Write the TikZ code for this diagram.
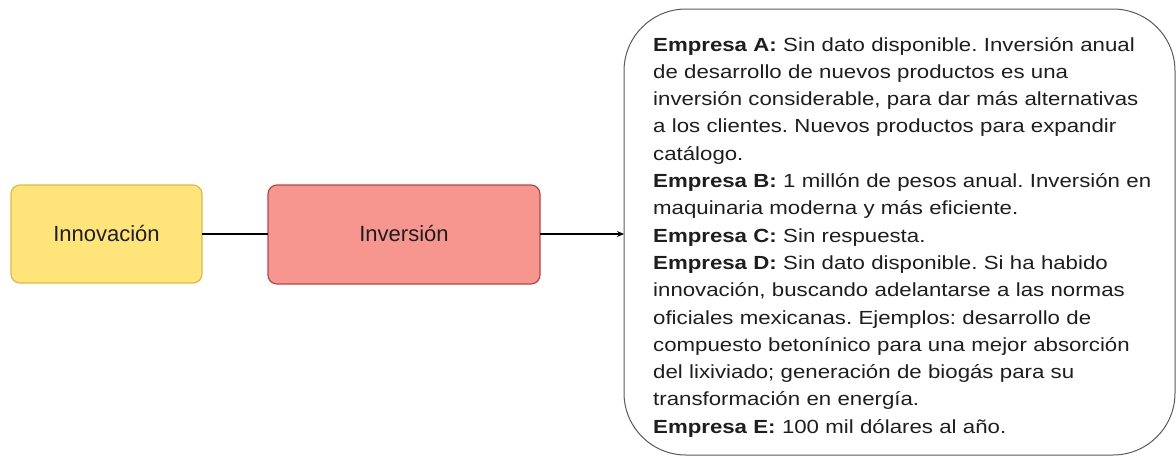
\documentclass[tikz,border=0pt]{standalone}
\usepackage{fontspec}
\setmainfont{Liberation Sans}
\newfontfamily\widefont[FakeStretch=1.17]{Liberation Sans}
\usetikzlibrary{arrows.meta}
\definecolor{yfill}{RGB}{255,228,122}
\definecolor{ydraw}{RGB}{222,186,70}
\definecolor{rfill}{RGB}{246,150,142}
\definecolor{rdraw}{RGB}{184,70,68}
\definecolor{bdraw}{RGB}{90,90,90}
\definecolor{txt}{RGB}{30,30,30}
\tikzset{
  smallbox/.style={rounded corners=9pt, line width=1.2pt},
  boxlabel/.style={text=txt, font=\fontsize{22}{26}\selectfont},
  conn/.style={line width=1.5pt, black},
  bigtext/.style={anchor=base west, inner sep=0pt, text width=520pt, align=left, text=txt,
    font=\widefont\fontsize{19}{27.3}\selectfont\frenchspacing}
}
\begin{document}
\begin{tikzpicture}[x=1pt,y=-1pt]
\useasboundingbox (0,0) rectangle (1176,456);
\draw[smallbox, fill=yfill, draw=ydraw] (11,185) rectangle (202,283);
\node[boxlabel] (inno) at (106.5,234) {Innovación};
\coordinate (innoR) at (202,234);
\draw[smallbox, fill=rfill, draw=rdraw] (268,185) rectangle (540,284);
\node[boxlabel] (inv) at (404,234) {Inversión};
\coordinate (invL) at (268,234);
\coordinate (invR) at (540,234);
\draw[rounded corners=62pt, line width=1pt, draw=bdraw, fill=white] (624,9) rectangle (1175,455);
\coordinate (boxL) at (624,234);
\node[bigtext] (txt) at (653,51) {\textbf{Empresa A:} Sin dato disponible. Inversión anual\\
de desarrollo de nuevos productos es una\\
inversión considerable, para dar más alternativas\\
a los clientes. Nuevos productos para expandir\\
catálogo.\\
\textbf{Empresa B:} 1 millón de pesos anual. Inversión en\\
maquinaria moderna y más eficiente.\\
\textbf{Empresa C:} Sin respuesta.\\
\textbf{Empresa D:} Sin dato disponible. Si ha habido\\
innovación, buscando adelantarse a las normas\\
oficiales mexicanas. Ejemplos: desarrollo de\\
compuesto betonínico para una mejor absorción\\
del lixiviado; generación de biogás para su\\
transformación en energía.\\
\textbf{Empresa E:} 100 mil dólares al año.};
\draw[conn] (innoR) -- (invL);
\draw[conn, -{Stealth[length=7pt,width=6pt]}] (invR) -- (boxL);
\end{tikzpicture}
\end{document}
